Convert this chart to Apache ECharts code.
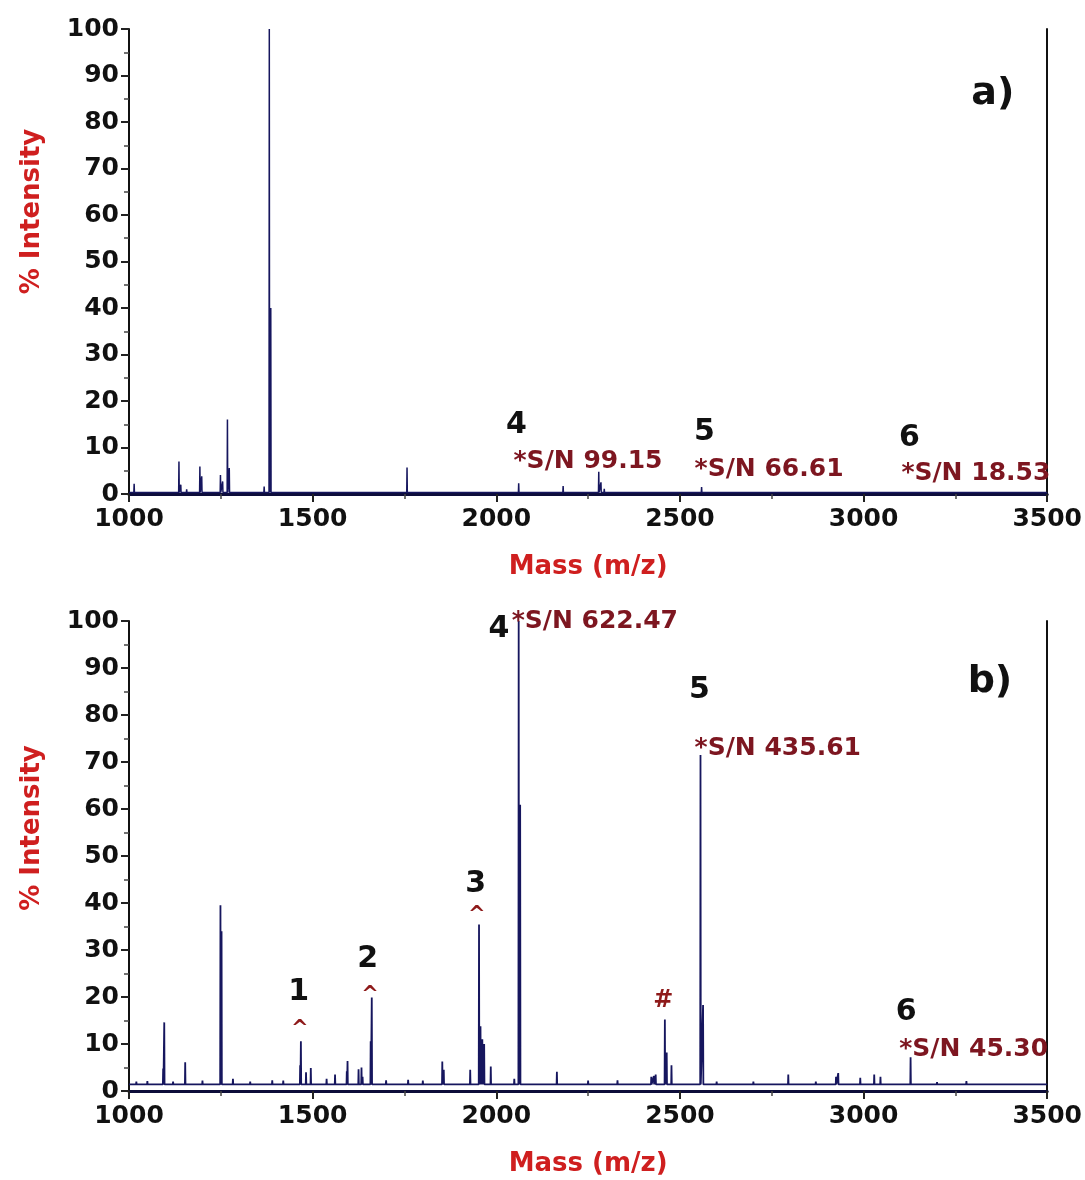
<!DOCTYPE html>
<html>
<head>
<meta charset="utf-8">
<script src="https://cdn.jsdelivr.net/npm/echarts@6/dist/echarts.min.js"></script>
<style>
  html, body { margin: 0; padding: 0; background: #fff; }
  #chart { width: 1085px; height: 1180px; }
</style>
</head>
<body>
<div id="chart"></div>
<script>
// --- spectrum a) ---
const baseA = 0.3;
const peaksA_mz  = [1014, 1041, 1100, 1136, 1141, 1157, 1193, 1198, 1249, 1255, 1268, 1273, 1336, 1368, 1382, 1386, 1724, 1757, 1766, 1951, 2061, 2182, 2279, 2285, 2294, 2313, 2559, 3124];
const peaksA_int = [2.2,  0.6,  0.7,  7.0,  2.0,  1.0,  5.9,  3.8,  4.1,  2.7,  16.0, 5.6,  0.7,  1.6,  100,  40,   0.6,  5.7,  0.6,  0.5,  2.3,  1.7,  4.8,  2.5,  1.1,  0.6,  1.5,  0.6];

// --- spectrum b) ---
const baseB = 1.4;
const peaksB_mz  = [1020, 1050, 1093, 1096, 1120, 1153, 1200, 1249, 1252, 1283, 1330, 1390, 1420, 1466, 1468, 1482, 1495, 1538, 1561, 1593, 1595, 1625, 1633, 1636, 1658, 1661, 1700, 1760, 1800, 1853, 1857, 1929, 1953, 1957, 1962, 1967, 1985, 2049, 2061, 2065, 2165, 2250, 2330, 2422, 2429, 2434, 2459, 2464, 2477, 2556, 2563, 2600, 2700, 2795, 2870, 2925, 2931, 2991, 3029, 3046, 3128, 3200, 3280, 3350, 3430];
const peaksB_int = [2.0,  2.1,  4.8,  14.6, 2.0,  6.1,  2.2,  39.5, 34.0, 2.6,  2.0,  2.3,  2.2,  5.5,  10.6, 4.0,  4.9,  2.6,  3.5,  4.2,  6.4,  4.6,  5.0,  3.0,  10.6, 19.9, 2.3,  2.4,  2.2,  6.3,  4.5,  4.5,  35.4, 13.8, 11.0, 10.0, 5.2,  2.6,  100,  60.9, 4.1,  2.2,  2.3,  3.0,  3.2,  3.5,  15.2, 8.2,  5.5,  71.5, 18.3, 2.0,  2.0,  3.5,  2.0,  3.0,  3.8,  2.8,  3.5,  3.0,  7.2,  1.9,  2.1,  1.8,  1.8];

// --- annotations: [m/z, intensity, text, kind] ---
const notesA = [
  [2055, 14.8, '4', 'num'],
  [2047, 6.9, '*S/N 99.15', 'sn'],
  [2567, 13.3, '5', 'num'],
  [2540, 5.2, '*S/N 66.61', 'sn'],
  [3125, 12.0, '6', 'num'],
  [3103, 4.5, '*S/N 18.53', 'sn'],
  [3352, 86.0, 'a)', 'panel']
];
const notesB = [
  [2007, 98.3, '4', 'num'],
  [2042, 99.8, '*S/N 622.47', 'sn'],
  [2553, 85.3, '5', 'num'],
  [2540, 72.8, '*S/N 435.61', 'sn'],
  [1944, 44.1, '3', 'num'],
  [1947, 38.3, '^', 'mark'],
  [1650, 28.1, '2', 'num'],
  [1656, 21.3, '^', 'mark'],
  [1462, 21.1, '1', 'num'],
  [1465, 14.2, '^', 'mark'],
  [2455, 19.1, '#', 'mark'],
  [3116, 16.8, '6', 'num'],
  [3097, 8.9, '*S/N 45.30', 'sn'],
  [3344, 87.0, 'b)', 'panel']
];

const FONT = '"DejaVu Sans", sans-serif';
const RED = '#cf1f1f';
const DARKRED = '#7d1620';

function buildSpectrum(mz, intensity, base) {
    const pts = [[1000, base]];
    mz.forEach((m, i) => {
        pts.push([m - 0.8, base]);
        pts.push([m, intensity[i]]);
        pts.push([m + 0.8, base]);
    });
    pts.push([3500, base]);
    return pts;
}

function noteItems(notes) {
    return notes.map(([m, v, text, kind]) => {
        let label;
        if (kind === 'sn') {
            label = { position: 'right', distance: 0, color: DARKRED, fontSize: 25 };
        } else if (kind === 'num') {
            label = { position: 'inside', color: '#111', fontSize: 30 };
        } else if (kind === 'panel') {
            label = { position: 'inside', color: '#111', fontSize: 38 };
        } else if (text === '^') {
            label = { position: 'inside', color: '#8e1a1a', fontSize: 21, offset: [0, 5] };
        } else {
            label = { position: 'inside', color: '#8e1a1a', fontSize: 24 };
        }
        label.show = true;
        label.fontWeight = 'bold';
        label.fontFamily = FONT;
        label.opacity = 1;
        label.formatter = text;
        return { value: [m, v], label, itemStyle: { opacity: 1 } };
    });
}

function xAxisCfg(gridIndex) {
    return {
        type: 'value', gridIndex, min: 1000, max: 3500, interval: 500,
        name: 'Mass (m/z)', nameLocation: 'middle', nameGap: 60,
        nameTextStyle: { color: RED, fontSize: 26, fontWeight: 'bold', fontFamily: FONT },
        axisLine: { lineStyle: { color: '#0d0d3a', width: 3 } },
        axisTick: { length: 8, lineStyle: { color: '#222', width: 2 } },
        minorTick: { show: true, splitNumber: 2, length: 5, lineStyle: { color: '#444', width: 1.5 } },
        axisLabel: { color: '#111', fontSize: 25, fontWeight: 'bold', fontFamily: FONT, margin: 13, formatter: v => String(v) },
        splitLine: { show: false }
    };
}

// nameShift: the axis title sits above the grid's middle in the reference
function yAxisCfg(gridIndex, nameShift) {
    return {
        type: 'value', gridIndex, min: 0, max: 100, interval: 10,
        name: '% Intensity', nameLocation: 'middle', nameGap: 84,
        nameTextStyle: { color: RED, fontSize: 26, fontWeight: 'bold', fontFamily: FONT, padding: [0, 0, 0, nameShift] },
        axisLine: { show: true, lineStyle: { color: '#111', width: 2 } },
        axisTick: { length: 8, lineStyle: { color: '#222', width: 2 } },
        minorTick: { show: true, splitNumber: 2, length: 5, lineStyle: { color: '#444', width: 1.5 } },
        axisLabel: { color: '#111', fontSize: 25, fontWeight: 'bold', fontFamily: FONT, margin: 10 },
        splitLine: { show: false }
    };
}

function rightAxisCfg(gridIndex) {
    return {
        type: 'value', gridIndex, min: 0, max: 100, position: 'right',
        axisLine: { show: true, lineStyle: { color: '#111', width: 2 } },
        axisTick: { show: false }, axisLabel: { show: false }, splitLine: { show: false }
    };
}

const chart = echarts.init(document.getElementById('chart'));
chart.setOption({
    animation: false,
    backgroundColor: '#fff',
    grid: [
        { left: 129, right: 37, top: 29, height: 465 },
        { left: 129, right: 37, top: 621, height: 470 }
    ],
    xAxis: [xAxisCfg(0), xAxisCfg(1)],
    yAxis: [yAxisCfg(0, 100), yAxisCfg(1, 56), rightAxisCfg(0), rightAxisCfg(1)],
    series: [
        {
            type: 'line', xAxisIndex: 0, yAxisIndex: 0, showSymbol: false,
            lineStyle: { color: '#16165e', width: 1.5 },
            data: buildSpectrum(peaksA_mz, peaksA_int, baseA), z: 3
        },
        {
            type: 'line', xAxisIndex: 1, yAxisIndex: 1, showSymbol: false,
            lineStyle: { color: '#16165e', width: 1.8 },
            data: buildSpectrum(peaksB_mz, peaksB_int, baseB), z: 3
        },
        {
            type: 'scatter', xAxisIndex: 0, yAxisIndex: 0, symbolSize: 0, silent: true,
            data: noteItems(notesA), z: 5
        },
        {
            type: 'scatter', xAxisIndex: 1, yAxisIndex: 1, symbolSize: 0, silent: true,
            data: noteItems(notesB), z: 5
        }
    ]
});
</script>
</body>
</html>
